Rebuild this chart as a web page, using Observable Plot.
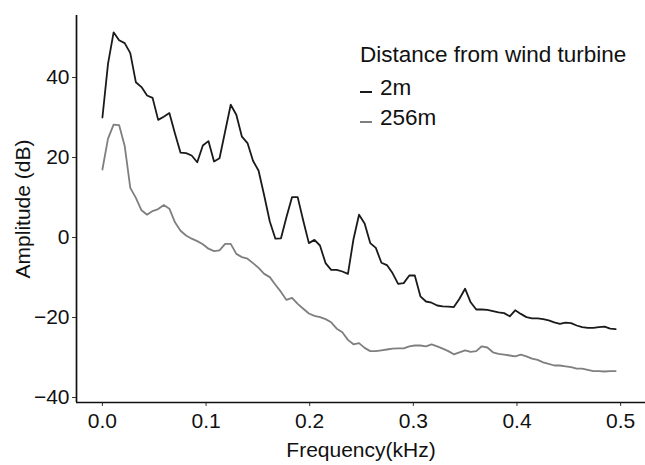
<!DOCTYPE html>
<html><head><meta charset="utf-8">
<script src="https://cdn.jsdelivr.net/npm/d3@7"></script>
<script src="https://cdn.jsdelivr.net/npm/@observablehq/plot@0.6"></script>
<style>
body{margin:0;background:#fff;}
#wrap{position:relative;width:645px;height:465px;font-family:"Liberation Sans",Arial,sans-serif;}
#legend{position:absolute;left:360px;top:42px;color:#111;}
#legend .ttl{font-size:22.5px;line-height:26px;white-space:nowrap;margin-bottom:5px;}
#legend .item{font-size:22.5px;line-height:30px;height:30px;display:flex;align-items:center;white-space:nowrap;}
#legend .key{display:inline-block;width:12px;height:2px;margin-right:8px;position:relative;top:4px;}
</style></head><body>
<div id="wrap"><div id="chart"></div><div id="legend"></div></div>
<script>
const legendTitle = "Distance from wind turbine";
const seriesNames = ["2m", "256m"];
const seriesColors = ["#1a1a1a", "#7f7f7f"];
const xTicks = [0, 0.1, 0.2, 0.3, 0.4, 0.5];
const yTicks = [-40, -20, 0, 20, 40];
const xLabel = "Frequency(kHz)";
const yLabel = "Amplitude (dB)";

const freq = [0, 0.0054, 0.0108, 0.0161, 0.0215, 0.0269, 0.0323, 0.0377, 0.0431, 0.0484,
  0.0538, 0.0592, 0.0646, 0.0700, 0.0754, 0.0807, 0.0861, 0.0915, 0.0969, 0.1023,
  0.1077, 0.1130, 0.1184, 0.1238, 0.1292, 0.1346, 0.1400, 0.1453, 0.1507, 0.1561,
  0.1615, 0.1669, 0.1723, 0.1776, 0.1830, 0.1884, 0.1938, 0.1992, 0.2046, 0.2099,
  0.2153, 0.2207, 0.2261, 0.2315, 0.2369, 0.2422, 0.2476, 0.2530, 0.2584, 0.2638,
  0.2692, 0.2745, 0.2799, 0.2853, 0.2907, 0.2961, 0.3014, 0.3068, 0.3122, 0.3176,
  0.3230, 0.3284, 0.3337, 0.3391, 0.3445, 0.3499, 0.3553, 0.3607, 0.3660, 0.3714,
  0.3768, 0.3822, 0.3876, 0.3930, 0.3983, 0.4037, 0.4091, 0.4145, 0.4199, 0.4253,
  0.4306, 0.4360, 0.4414, 0.4468, 0.4522, 0.4576, 0.4629, 0.4683, 0.4737, 0.4791,
  0.4845, 0.4899, 0.4952];

const amp2m = [30, 43.4, 51.3, 49.3, 48.6, 46.1, 38.8, 37.6, 35.5, 34.9,
  29.4, 30.2, 31.1, 26, 21.2, 21.1, 20.5, 18.8, 23, 24.1,
  19, 19.8, 26.5, 33.2, 30.7, 25.2, 23.6, 19.2, 16.7, 10.5,
  4, -0.3, -0.2, 5.1, 10.1, 10.1, 4.2, -1.4, -0.6, -2,
  -6.4, -8.1, -8.1, -8.5, -9.1, -0.5, 5.7, 3.5, -1.4, -2.6,
  -6.3, -6.9, -8.9, -11.6, -11.4, -9.5, -9.5, -14.7, -16, -16.3,
  -17, -17.2, -17.3, -17.4, -15.3, -12.8, -16.2, -18, -18, -18.1,
  -18.4, -18.7, -18.9, -19.7, -18.2, -19.1, -19.9, -20.2, -20.2, -20.4,
  -20.7, -21.2, -21.6, -21.3, -21.4, -22, -22.4, -22.6, -22.6, -22.4,
  -22.3, -22.8, -22.9];

const amp256m = [17, 24.7, 28.2, 28.1, 22.9, 12.4, 9.9, 6.8, 5.7, 6.6,
  7.1, 8.1, 7.2, 3.8, 1.7, 0.5, -0.3, -0.9, -1.7, -2.8,
  -3.4, -3.2, -1.6, -1.6, -4.1, -4.9, -5.3, -6.4, -7.6, -9.1,
  -9.9, -11.8, -13.6, -15.6, -15.1, -16.6, -17.8, -19, -19.6, -19.9,
  -20.4, -21.2, -22.8, -23.7, -25.6, -26.7, -26.4, -27.6, -28.4, -28.4,
  -28.2, -28, -27.8, -27.7, -27.7, -27.2, -27, -27, -27.2, -26.7,
  -27.2, -27.8, -28.4, -29.2, -28.7, -28.2, -28.6, -28.4, -27.2, -27.5,
  -28.7, -29.1, -29.3, -29.5, -29.7, -29.3, -29.7, -30.3, -30.6, -31.2,
  -31.6, -32, -32, -32.2, -32.4, -32.8, -32.8, -33.1, -33.4, -33.4,
  -33.5, -33.4, -33.4];

const seriesValues = [amp2m, amp256m];
const data = seriesNames.flatMap((s, k) => freq.map((f, i) => ({f, a: seriesValues[k][i], s})));

const xDomain = [-0.025, 0.524];
const yDomain = [-41.25, 55.5];

const chart = Plot.plot({
  width: 645, height: 465,
  marginLeft: 76, marginRight: 0, marginTop: 15, marginBottom: 63,
  style: {fontFamily: '"Liberation Sans", Arial, sans-serif', fontSize: "21px", color: "#111", background: "#fff"},
  x: {domain: xDomain},
  y: {domain: yDomain},
  color: {domain: seriesNames, range: seriesColors},
  marks: [
    Plot.axisX({ticks: xTicks, tickFormat: d3.format(".1f"), tickSize: 4, tickPadding: 7,
      label: xLabel, labelAnchor: "center", labelArrow: "none", labelOffset: 54, stroke: "#333"}),
    Plot.axisY({ticks: yTicks, tickFormat: d3.format("d"), tickSize: 4, tickPadding: 3,
      label: yLabel, labelAnchor: "center", labelArrow: "none", labelOffset: 61, stroke: "#333"}),
    Plot.ruleX([xDomain[0]], {stroke: "#111", strokeWidth: 1.7}),
    Plot.ruleY([yDomain[0]], {stroke: "#111", strokeWidth: 1.7}),
    Plot.line(data, {x: "f", y: "a", z: "s", stroke: "s", strokeWidth: 1.8})
  ]
});
document.getElementById("chart").appendChild(chart);

const lg = document.getElementById("legend");
const t = document.createElement("div");
t.className = "ttl"; t.textContent = legendTitle; lg.appendChild(t);
seriesNames.forEach((s, k) => {
  const it = document.createElement("div"); it.className = "item";
  const key = document.createElement("span"); key.className = "key"; key.style.background = seriesColors[k];
  it.appendChild(key); it.appendChild(document.createTextNode(s));
  lg.appendChild(it);
});
</script>
</body></html>
